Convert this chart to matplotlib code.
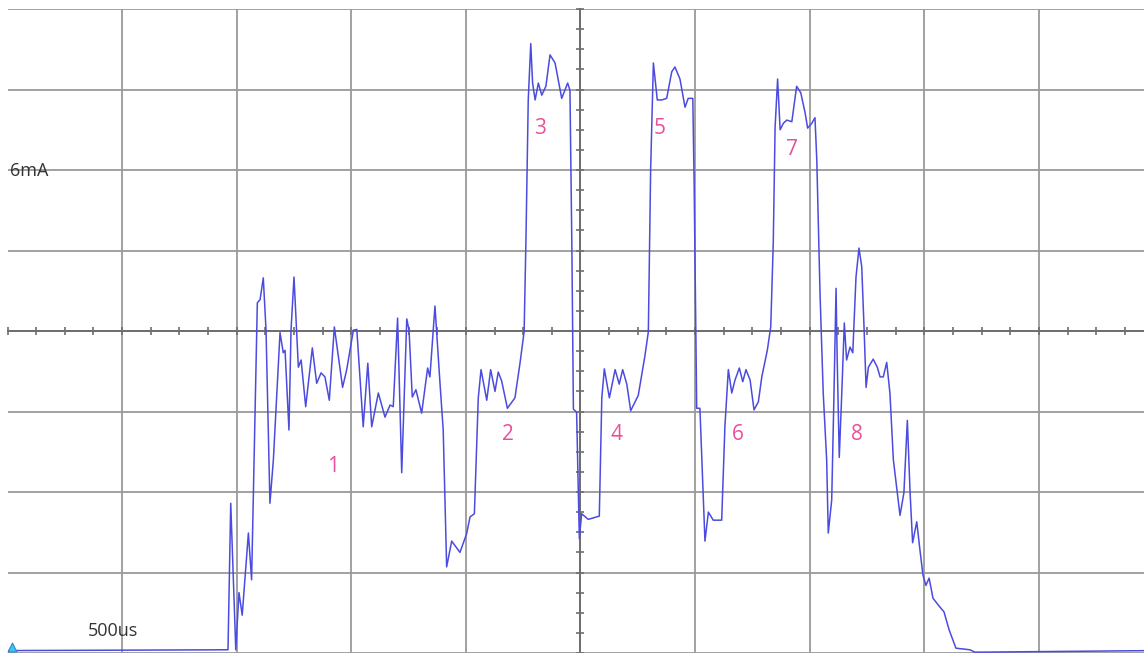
import matplotlib
matplotlib.use("Agg")
import matplotlib.pyplot as plt
from matplotlib.ticker import MultipleLocator, NullFormatter

# scope trace: time in us, current in mA (500us/div, 1mA/div)
t_us = [0, 962, 974, 996, 1010, 1024, 1051, 1065, 1090, 1102,
        1116, 1128, 1145, 1160, 1189, 1203, 1211, 1228, 1237, 1250,
        1269, 1281, 1301, 1330, 1349, 1368, 1385, 1404, 1426, 1462,
        1480, 1509, 1524, 1552, 1572, 1589, 1618, 1647, 1669, 1683,
        1702, 1720, 1742, 1752, 1766, 1782, 1807, 1833, 1843, 1865,
        1887, 1901, 1916, 1938, 1974, 2003, 2018, 2037, 2054, 2066,
        2091, 2108, 2127, 2141, 2156, 2181, 2214, 2236, 2254, 2262,
        2272, 2283, 2291, 2302, 2316, 2331, 2349, 2367, 2389, 2418,
        2444, 2454, 2462, 2469, 2483, 2495, 2505, 2534, 2582, 2593,
        2604, 2626, 2651, 2669, 2684, 2702, 2719, 2752, 2781, 2796,
        2806, 2818, 2835, 2854, 2876, 2898, 2912, 2934, 2956, 2970,
        2990, 2996, 3007, 3021, 3043, 3058, 3079, 3116, 3130, 3145,
        3160, 3174, 3193, 3208, 3222, 3240, 3257, 3276, 3291, 3315,
        3330, 3341, 3349, 3360, 3371, 3385, 3400, 3422, 3443, 3461,
        3480, 3491, 3509, 3523, 3531, 3545, 3559, 3574, 3581, 3596,
        3606, 3615, 3620, 3629, 3640, 3651, 3661, 3676, 3688, 3702,
        3715, 3727, 3737, 3746, 3756, 3777, 3795, 3807, 3821, 3836,
        3850, 3865, 3894, 3911, 3926, 3938, 3949, 3967, 3981, 3994,
        4007, 4021, 4038, 4060, 4086, 4108, 4138, 4199, 4221, 5000]
i_ma = [0.03, 0.04, 1.86, 0.04, 0.75, 0.47, 1.49, 0.91, 4.35, 4.39,
        4.66, 4.01, 1.86, 2.40, 3.98, 3.73, 3.76, 2.77, 4.01, 4.67,
        3.55, 3.64, 3.06, 3.79, 3.35, 3.48, 3.43, 3.14, 4.05, 3.30,
        3.52, 4.01, 4.02, 2.81, 3.60, 2.81, 3.23, 2.93, 3.08, 3.06,
        4.16, 2.24, 4.15, 4.01, 3.18, 3.27, 2.98, 3.54, 3.43, 4.31,
        3.35, 2.77, 1.07, 1.39, 1.25, 1.48, 1.69, 1.73, 3.17, 3.52,
        3.14, 3.52, 3.25, 3.49, 3.38, 3.04, 3.17, 3.60, 3.99, 5.13,
        6.87, 7.57, 7.08, 6.87, 7.08, 6.93, 7.04, 7.43, 7.33, 6.89,
        7.08, 6.99, 5.13, 3.03, 2.99, 1.42, 1.73, 1.66, 1.70, 3.17,
        3.53, 3.17, 3.52, 3.34, 3.52, 3.34, 3.01, 3.20, 3.69, 3.99,
        6.00, 7.33, 6.87, 6.87, 6.89, 7.22, 7.28, 7.13, 6.78, 6.89,
        6.89, 5.79, 3.04, 3.04, 1.39, 1.75, 1.65, 1.65, 2.81, 3.52,
        3.23, 3.39, 3.54, 3.37, 3.52, 3.39, 3.02, 3.12, 3.43, 3.76,
        4.05, 5.09, 6.53, 7.13, 6.50, 6.58, 6.62, 6.60, 7.04, 6.96,
        6.71, 6.52, 6.58, 6.65, 6.12, 4.47, 3.23, 2.40, 1.49, 1.90,
        3.23, 4.53, 3.64, 2.43, 3.23, 4.10, 3.64, 3.80, 3.73, 4.67,
        5.03, 4.80, 4.05, 3.30, 3.55, 3.65, 3.55, 3.43, 3.43, 3.61,
        3.23, 2.40, 1.71, 1.99, 2.89, 1.99, 1.37, 1.63, 1.28, 0.97,
        0.84, 0.93, 0.68, 0.60, 0.51, 0.29, 0.06, 0.04, 0.01, 0.03]

# phase labels
phase_labels = ['1', '2', '3', '4', '5', '6', '7', '8']
phase_t = [1420, 2184, 2323, 2659, 2847, 3187, 3423, 3706]
phase_i = [2.32, 2.71, 6.52, 2.71, 6.52, 2.71, 6.25, 2.71]

fig = plt.figure(figsize=(11.44, 6.53), dpi=100)
ax = fig.add_axes([7.5 / 1144, 0, 1146 / 1144, 644 / 653])
ax.set_xlim(0, 5000)
ax.set_ylim(0, 8)

# graticule
ax.set_xticks(range(500, 5001, 500))
ax.set_yticks(range(0, 9))
ax.xaxis.set_minor_locator(MultipleLocator(125))
ax.yaxis.set_minor_locator(MultipleLocator(0.25))
ax.xaxis.set_major_formatter(NullFormatter())
ax.yaxis.set_major_formatter(NullFormatter())
ax.grid(True, which='major', color='#9a9a9a', linewidth=1.3)
ax.set_axisbelow(True)

# center axes with small ticks
for s in ['right', 'top']:
    ax.spines[s].set_visible(False)
ax.spines['left'].set_position(('data', 2500))
ax.spines['bottom'].set_position(('data', 4))
ax.spines['left'].set_color('#6e6e6e')
ax.spines['bottom'].set_color('#6e6e6e')
ax.spines['left'].set_linewidth(1.4)
ax.spines['bottom'].set_linewidth(1.4)
ax.tick_params(which='both', direction='inout', length=6, width=1.2,
               color='#6e6e6e')

ax.plot(t_us, i_ma, color='#4b4be0', linewidth=1.1, zorder=3)

for lab, tx, iy in zip(phase_labels, phase_t, phase_i):
    ax.text(tx, iy, lab, color='#e8509a', fontsize=15, family='Open Sans',
            ha='center', va='center', zorder=4)

ax.text(12, 5.99, '6mA', color='#333333', fontsize=13, family='Open Sans',
        ha='left', va='center', zorder=1)
ax.text(351, 0.27, '500us', color='#333333', fontsize=13, family='Open Sans',
        ha='left', va='center', zorder=4)
ax.scatter([20], [0.08], marker='^', s=40, color='#33ccee',
           edgecolor='#3a7fd0', linewidth=0.8, zorder=5, clip_on=False)

fig.savefig('out.png', dpi=100)
